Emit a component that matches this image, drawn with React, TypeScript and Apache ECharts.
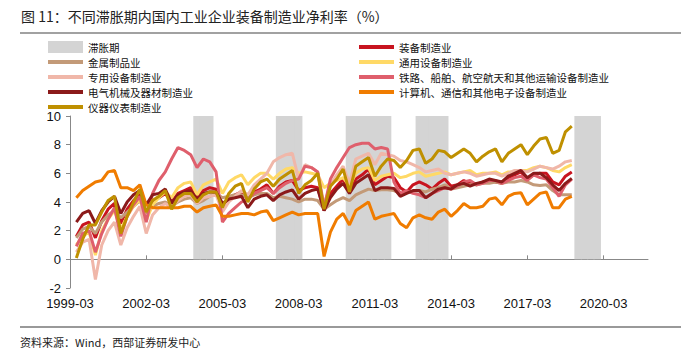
import React, { useEffect, useRef } from "react";
import * as echarts from "echarts";

// Quarterly categories 1999-03 .. 2021-12
const YEARS: number[] = [];
for (let y = 1999; y <= 2021; y++) YEARS.push(y);
const MONTHS = ["03", "06", "09", "12"];
const categories: string[] = [];
YEARS.forEach((y) => MONTHS.forEach((m) => categories.push(`${y}-${m}`)));

// Stagflation quarters (grey bands)
const stagflation = [
  "2004-03", "2004-06", "2004-09",
  "2007-06", "2007-09", "2007-12", "2008-03",
  "2010-03", "2010-06", "2010-09", "2010-12", "2011-03", "2011-06", "2011-09",
  "2012-12", "2013-03", "2013-06", "2013-09", "2013-12",
  "2019-03", "2019-06", "2019-09", "2019-12",
];
const BAND_TOP = 10;

// Series values: 1999-06 .. 2018-12 (quarterly, %)
const equipment = [
  1.6, 2.4, 2.6,
  1.5, 2.7, 3.5, 3.9,
  2.5, 3.5, 4.1, 4.5,
  3.3, 4.0, 4.3, 4.6,
  4.0, 4.6, 4.8, 5.0,
  4.3, 4.8, 5.0, 4.9,
  3.8, 4.2, 4.5, 4.7,
  4.2, 4.7, 4.9, 5.2,
  4.6, 5.1, 5.4, 5.5,
  4.8, 5.0, 5.1, 5.0,
  3.4, 4.6, 5.1, 5.6,
  4.7, 5.6, 5.9, 6.3,
  5.2, 5.5, 5.8, 5.7,
  5.0, 4.7, 5.2, 5.4,
  5.2, 4.9, 5.3, 5.6,
  5.1, 5.2, 5.5, 5.3,
  5.2, 5.4, 5.5, 5.4,
  5.3, 5.7, 5.9, 6.1,
  5.6, 5.9, 6.0, 6.0,
  5.4, 5.2, 5.8, 6.1,
];
const metal = [
  1.5, 2.1, 2.3,
  1.8, 2.6, 3.1, 3.4,
  2.9, 3.3, 3.7, 4.1,
  3.2, 3.7, 3.9, 4.0,
  3.7, 4.0, 4.2, 4.3,
  3.9, 4.1, 4.4, 4.6,
  4.3, 4.4, 4.5, 4.5,
  4.3, 4.5, 4.6, 4.6,
  4.3, 4.4, 4.3, 4.2,
  4.0, 4.2, 4.2, 4.1,
  3.5, 3.8, 4.1, 4.3,
  4.1, 4.5, 4.7, 4.9,
  4.8, 4.85, 4.85, 4.8,
  4.6, 4.7, 4.75, 4.8,
  4.7, 4.9, 5.0, 5.2,
  4.9, 5.0, 5.1, 5.2,
  5.2, 5.3, 5.3, 5.4,
  5.3, 5.4, 5.4, 5.5,
  5.4, 5.2, 5.15, 5.2,
  4.8, 4.5, 4.5, 4.5,
];
const general = [
  1.0, 1.6, 1.9,
  0.3, 2.0, 2.8, 3.4,
  2.1, 3.0, 3.7, 4.2,
  2.7, 3.8, 4.3, 4.7,
  4.3, 5.0, 5.3, 5.4,
  4.5, 5.2, 5.4, 5.6,
  4.6, 5.4, 5.7, 5.9,
  5.2, 5.7, 6.0, 6.0,
  5.6, 6.0, 6.3, 6.4,
  6.0, 6.1, 6.0, 5.9,
  5.0, 5.3, 5.5, 5.7,
  5.1, 6.0, 6.3, 6.4,
  5.5, 5.8, 5.9, 6.0,
  5.7, 5.8, 6.0, 6.1,
  5.8, 5.9, 6.0, 6.1,
  5.9, 6.0, 6.1, 6.2,
  5.9, 6.0, 6.0, 6.1,
  5.9, 6.1, 6.1, 6.2,
  6.2, 6.4, 6.5, 6.4,
  6.2, 6.1, 6.4, 6.6,
];
const special = [
  0.5, 1.2, 1.4,
  -1.4, 1.0, 2.0, 2.6,
  1.0, 2.2, 3.0, 3.7,
  1.8, 3.1, 3.6, 3.9,
  3.6, 4.1, 4.4, 4.5,
  3.9, 4.3, 4.4, 4.5,
  3.3, 4.0, 4.4, 4.8,
  4.5, 5.2, 5.6, 6.0,
  6.8, 7.1, 7.3, 7.4,
  5.6, 6.6, 6.4, 6.1,
  3.8, 5.2, 5.9, 6.5,
  5.3, 7.0, 7.2, 7.4,
  6.6, 7.4, 7.3, 7.2,
  6.9, 6.8, 6.6, 6.4,
  6.1, 6.2, 6.3, 6.0,
  5.9, 6.0, 6.1, 6.0,
  5.8, 5.9, 6.0, 6.0,
  5.8, 6.0, 6.2, 6.2,
  6.1, 6.3, 6.5, 6.4,
  6.3, 6.5, 6.8, 6.9,
];
const transport = [
  0.9, 1.8, 2.0,
  0.5, 1.8, 2.8, 3.6,
  1.6, 3.0, 3.8, 4.4,
  2.6, 4.6, 5.5, 6.1,
  7.0, 7.8, 7.6, 7.3,
  6.4, 7.0, 6.8, 6.1,
  2.6, 3.2, 3.6, 4.0,
  4.2, 4.6, 4.8, 5.0,
  4.6, 5.0, 5.3, 5.5,
  5.6, 6.5, 6.4, 6.1,
  3.6, 5.6, 6.4, 7.1,
  7.8, 8.0, 8.1, 8.1,
  7.7, 7.8, 7.7, 5.4,
  4.6, 4.8, 4.6, 4.5,
  4.3, 4.6, 4.8, 5.0,
  4.9, 5.1, 5.4, 5.5,
  5.2, 5.3, 5.5, 5.5,
  5.3, 5.5, 5.7, 5.8,
  5.5, 5.9, 5.7, 5.6,
  5.0, 4.4, 5.2, 5.6,
];
const electrical = [
  2.6, 3.2, 3.4,
  2.5, 3.4, 4.0, 4.4,
  3.2, 4.0, 4.5, 4.8,
  3.8, 4.5, 4.6, 4.9,
  3.9, 4.5, 4.7, 4.8,
  4.2, 4.6, 4.7, 4.7,
  3.9, 4.2, 4.3, 4.4,
  3.6, 4.2, 4.4, 4.5,
  4.1, 4.5, 4.7, 4.85,
  4.2, 4.6, 4.8, 4.9,
  3.4, 4.3, 4.9, 5.3,
  4.6, 5.3, 5.6, 5.9,
  4.8, 5.0, 5.0, 4.95,
  4.4, 4.6, 4.8, 4.8,
  4.3, 4.6, 4.9, 5.0,
  4.9, 5.2, 5.3, 5.1,
  5.3, 5.4, 5.6, 5.5,
  5.4, 5.8, 6.0, 6.2,
  5.7, 6.0, 6.0, 5.7,
  5.2, 4.8, 5.3, 5.65,
];
const computer = [
  4.3, 4.8, 5.1,
  5.4, 5.5, 6.1, 6.2,
  5.0, 5.0, 4.8, 5.2,
  3.8, 3.6, 3.6, 3.6,
  3.6, 3.6, 3.7, 3.7,
  3.3, 3.6, 3.7, 3.8,
  3.0, 3.0, 3.1, 3.2,
  3.2, 3.1, 3.3, 3.4,
  2.7, 2.9, 3.1, 3.3,
  3.1, 3.2, 3.2, 3.2,
  0.2, 1.9, 2.8, 3.2,
  2.4, 3.4, 3.7, 4.0,
  2.8, 3.0, 3.1, 3.2,
  2.5, 2.2, 2.9, 3.1,
  2.9, 2.8, 3.3, 3.5,
  3.0, 3.4, 3.9, 3.6,
  3.6, 3.7, 4.2, 4.3,
  3.8, 4.4, 4.6, 4.65,
  3.8, 4.2, 4.6, 4.7,
  3.6, 3.6, 4.2, 4.4,
];
const instrument = [
  0.1, 1.4, 2.4,
  2.4, 3.3, 4.1, 4.4,
  1.8, 3.0, 4.0, 4.9,
  3.3, 4.1, 4.4, 4.8,
  3.5, 4.3, 4.6, 4.6,
  4.0, 4.5, 4.7, 4.7,
  3.6, 4.6, 5.1, 5.3,
  4.0, 4.9, 5.4, 5.6,
  5.1, 5.6, 5.9, 6.2,
  4.6, 5.2, 5.5, 6.0,
  3.5, 5.1, 5.6, 6.3,
  4.7, 6.5, 6.8, 7.1,
  5.8, 6.5, 7.0, 6.9,
  6.4, 6.9, 7.6, 7.7,
  6.7, 7.0, 7.6, 7.5,
  7.1, 7.4, 7.7, 7.4,
  6.8, 7.2, 7.5, 7.7,
  6.8, 7.4, 7.7, 8.0,
  7.3, 7.9, 8.4, 8.5,
  7.4, 7.6, 8.9, 9.3,
];

const yTicks = { min: -2, max: 10, interval: 2 };

const lineDefs = [
  { name: "装备制造业", data: equipment, color: "#C8141F" },
  { name: "金属制品业", data: metal, color: "#C39A78" },
  { name: "通用设备制造业", data: general, color: "#FFD966" },
  { name: "专用设备制造业", data: special, color: "#F0B7A9" },
  { name: "铁路、船舶、航空航天和其他运输设备制造业", data: transport, color: "#DF5F6C" },
  { name: "电气机械及器材制造业", data: electrical, color: "#8B1A1A" },
  { name: "计算机、通信和其他电子设备制造业", data: computer, color: "#F07C00" },
  { name: "仪器仪表制造业", data: instrument, color: "#BF9000" },
];

const bandLegend = ["滞胀期"];
const leftLegend = ["金属制品业", "专用设备制造业", "电气机械及器材制造业", "仪器仪表制造业"];
const rightLegend = ["装备制造业", "通用设备制造业", "铁路、船舶、航空航天和其他运输设备制造业", "计算机、通信和其他电子设备制造业"];

const CJK = "'Noto Sans CJK SC', sans-serif";
const LATIN = "'Liberation Sans', Arial, sans-serif";

export default function App() {
  const ref = useRef<HTMLDivElement>(null);
  useEffect(() => {
    document.body.style.margin = "0";
    if (!ref.current) return;
    const chart = echarts.init(ref.current, undefined, { renderer: "svg" });
    const pad = (vals: number[]) => {
      const out: (number | null)[] = [null, ...vals];
      while (out.length < categories.length) out.push(null);
      return out;
    };
    const legendCommon = {
      orient: "vertical" as const,
      padding: 0,
      itemGap: 0,
      itemWidth: 35,
      itemHeight: 4,
      icon: "rect",
      selectedMode: false,
      textStyle: { fontSize: 10.5, lineHeight: 15, color: "#111", fontFamily: CJK },
    };
    const option: any = {
      animation: false,
      title: {
        text: "图 11：不同滞胀期内国内工业企业装备制造业净利率（%）",
        left: 21,
        top: 9,
        padding: 0,
        textStyle: { fontSize: 14, fontWeight: "normal", color: "#222", fontFamily: CJK },
      },
      legend: [
        { ...legendCommon, left: 48, top: 39.5, itemHeight: 12, data: bandLegend },
        { ...legendCommon, left: 48, top: 54.5, data: leftLegend },
        { ...legendCommon, left: 359, top: 39.5, data: rightLegend },
      ],
      grid: { left: 70, right: 35, top: 116, height: 172, containLabel: false },
      xAxis: [
        {
          type: "category",
          data: categories,
          boundaryGap: false,
          position: "bottom",
          axisLine: { show: false, onZero: false },
          axisTick: { show: false },
          axisLabel: { interval: 11, fontSize: 13, color: "#111", fontFamily: LATIN, margin: 9 },
        },
        {
          type: "category",
          data: categories,
          boundaryGap: false,
          position: "bottom",
          axisLine: { show: true, onZero: true, lineStyle: { color: "#888", width: 1 } },
          axisTick: { show: true, inside: true, interval: 11, length: 4, lineStyle: { color: "#888" } },
          axisLabel: { show: false },
        },
      ],
      yAxis: {
        type: "value",
        ...yTicks,
        splitLine: { show: false },
        axisLine: { show: true, lineStyle: { color: "#888", width: 1 } },
        axisTick: { show: true, length: 4, lineStyle: { color: "#888" } },
        axisLabel: { fontSize: 13, color: "#111", fontFamily: LATIN, margin: 9 },
      },
      series: [
        {
          name: "滞胀期",
          type: "bar",
          data: categories.map((c) => (stagflation.includes(c) ? BAND_TOP : null)),
          barGap: "-100%",
          barWidth: "118%",
          itemStyle: { color: "#D4D4D4" },
          z: 1,
        },
        ...lineDefs.map((d) => ({
          name: d.name,
          type: "line",
          data: pad(d.data),
          showSymbol: false,
          symbol: "none",
          lineStyle: { color: d.color, width: 3 },
          itemStyle: { color: d.color },
          z: 2,
        })),
      ],
      graphic: [
        { type: "line", shape: { x1: 20, y1: 33, x2: 681, y2: 33 }, style: { stroke: "#444", lineWidth: 1.2 } },
        { type: "line", shape: { x1: 20, y1: 327, x2: 681, y2: 327 }, style: { stroke: "#999", lineWidth: 2 } },
        {
          type: "text",
          left: 20,
          top: 336,
          style: { text: "资料来源：Wind，西部证券研发中心", fontSize: 11, fill: "#222", fontFamily: CJK },
        },
      ],
    };
    chart.setOption(option);
    return () => chart.dispose();
  }, []);
  return <div ref={ref} style={{ width: 683, height: 360 }} />;
}
